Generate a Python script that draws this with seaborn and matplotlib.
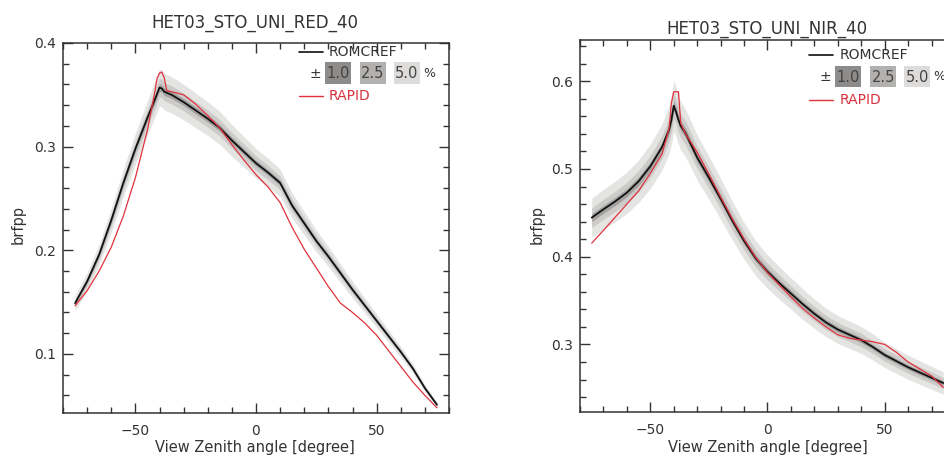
import numpy as np
import pandas as pd
import matplotlib
matplotlib.use("Agg")
import matplotlib.pyplot as plt
import seaborn as sns
from matplotlib.ticker import MultipleLocator
from matplotlib.patches import Rectangle
from matplotlib.lines import Line2D

# ---------------- data ----------------
angles = [-75, -70, -65, -60, -55, -50, -45, -42, -41, -40, -39, -38, -37, -35,
          -30, -25, -20, -15, -10, -5, 0, 5, 10, 15, 20, 25, 30, 35, 40, 45,
          50, 55, 60, 65, 70, 75]

red_romcref = [0.149, 0.170, 0.196, 0.229, 0.265, 0.298, 0.328, 0.345, 0.351, 0.357,
               0.356, 0.353, 0.352, 0.350, 0.343, 0.335, 0.327, 0.318, 0.306, 0.295,
               0.284, 0.275, 0.265, 0.243, 0.226, 0.209, 0.194, 0.178, 0.162, 0.147,
               0.132, 0.117, 0.102, 0.086, 0.067, 0.051]
red_rapid = [0.1465, 0.161, 0.180, 0.203, 0.233, 0.270, 0.316, 0.352, 0.366, 0.371,
             0.372, 0.366, 0.354, 0.353, 0.350, 0.341, 0.330, 0.318, 0.302, 0.287,
             0.273, 0.261, 0.246, 0.222, 0.201, 0.183, 0.165, 0.149, 0.140, 0.130,
             0.118, 0.103, 0.088, 0.073, 0.060, 0.048]

nir_romcref = [0.4445, 0.454, 0.463, 0.473, 0.486, 0.503, 0.525, 0.545, 0.556, 0.572,
               0.565, 0.556, 0.549, 0.541, 0.513, 0.490, 0.466, 0.441, 0.418, 0.398,
               0.383, 0.370, 0.358, 0.346, 0.335, 0.325, 0.317, 0.311, 0.305, 0.297,
               0.288, 0.281, 0.274, 0.268, 0.262, 0.256]
nir_rapid = [0.4154, 0.430, 0.445, 0.460, 0.475, 0.495, 0.517, 0.546, 0.575, 0.588,
             0.588, 0.588, 0.552, 0.540, 0.519, 0.494, 0.468, 0.443, 0.420, 0.399,
             0.382, 0.368, 0.354, 0.341, 0.330, 0.320, 0.311, 0.307, 0.305, 0.303,
             0.300, 0.291, 0.280, 0.272, 0.264, 0.251]

band_pcts = [5.0, 2.5, 1.0]
band_labels = ["1.0", "2.5", "5.0"]
titles = ["HET03_STO_UNI_RED_40", "HET03_STO_UNI_NIR_40"]
series_names = ["ROMCREF", "RAPID"]

# ---------------- style ----------------
sns.set_theme(style="ticks")
plt.rcParams['font.family'] = ['DejaVu Sans']
TXT = "#333333"
RED = "#e0323c"
band_colors = {5.0: "#e4e4e3", 2.5: "#cccbca", 1.0: "#a3a2a1"}
box_colors = ["#8e8c8a", "#b3b1af", "#dddcda"]

W, H = 945, 457
fig = plt.figure(figsize=(W / 100, H / 100), dpi=100)
fig.patch.set_facecolor("white")


def fx(px):
    return px / W


def fy(py):
    return 1 - py / H


ax1 = fig.add_axes([fx(63), fy(413), 386 / W, 370 / H])
ax2 = fig.add_axes([fx(580), fy(412), 375 / W, 372 / H])


def draw(ax, ref, rapid, ylim, title_xy, lab_cx, leg_xy):
    df = pd.DataFrame({"angle": angles, "ROMCREF": ref, "RAPID": rapid})
    r = np.array(ref)
    for p in band_pcts:
        ax.fill_between(df["angle"], r * (1 - p / 100), r * (1 + p / 100),
                        color=band_colors[p], lw=0, zorder=1)
    sns.lineplot(data=df, x="angle", y="ROMCREF", ax=ax, color="#111111",
                 lw=1.3, estimator=None, sort=False, zorder=3)
    sns.lineplot(data=df, x="angle", y="RAPID", ax=ax, color=RED,
                 lw=0.9, estimator=None, sort=False, zorder=4)
    ax.set_xlim(-80, 80)
    ax.set_ylim(*ylim)
    ax.xaxis.set_major_locator(MultipleLocator(50))
    ax.xaxis.set_minor_locator(MultipleLocator(10))
    ax.yaxis.set_major_locator(MultipleLocator(0.1))
    ax.yaxis.set_minor_locator(MultipleLocator(0.02))
    ax.yaxis.set_major_formatter(plt.FuncFormatter(lambda v, _: f"{v:.1f}"))
    ax.xaxis.set_major_formatter(plt.FuncFormatter(lambda v, _: f"{v:.0f}".replace("-", "\u2212")))
    ax.tick_params(which="both", direction="in", top=True, right=True,
                   colors=TXT, labelsize=10, width=1.0)
    ax.tick_params(which="major", length=7)
    ax.tick_params(which="minor", length=4)
    ax.tick_params(axis="x", pad=8)
    ax.tick_params(axis="y", pad=5)
    for s in ax.spines.values():
        s.set_color(TXT)
        s.set_linewidth(1.1)
    ax.set_xlabel("")
    ax.set_ylabel("")
    # titles / labels
    fig.text(fx(title_xy[0]), fy(title_xy[1]), title_xy[2], ha="center",
             va="baseline", fontsize=12, color=TXT)
    fig.text(fx(lab_cx), fy(452), "View Zenith angle [degree]", ha="center",
             va="baseline", fontsize=10.5, color=TXT)
    # legend
    lx, ly = leg_xy
    fig.add_artist(Line2D([fx(lx), fx(lx + 24)], [fy(ly), fy(ly)], color="#111111", lw=1.2))
    fig.text(fx(lx + 30), fy(ly), series_names[0], ha="left", va="center",
             fontsize=10, color=TXT)
    r2 = ly + 22
    fig.text(fx(lx + 16), fy(r2), "\u00b1", ha="center", va="center", fontsize=10, color=TXT)
    boxes = [(26, 52), (61, 87), (95, 121)]
    for (b0, b1), lab, bc in zip(boxes, band_labels, box_colors):
        fig.add_artist(Rectangle((fx(lx + b0), fy(ly + 32)), (b1 - b0) / W, 21.5 / H,
                                 transform=fig.transFigure, color=bc, lw=0))
        fig.text(fx(lx + (b0 + b1) / 2), fy(r2), lab, ha="center", va="center",
                 fontsize=10.5, color="#444444")
    fig.text(fx(lx + 124), fy(r2), "%", ha="left", va="center", fontsize=9, color=TXT)
    r3 = ly + 44.5
    fig.add_artist(Line2D([fx(lx), fx(lx + 24)], [fy(r3), fy(r3)], color=RED, lw=1.0))
    fig.text(fx(lx + 30), fy(r3), series_names[1], ha="left", va="center",
             fontsize=10, color="#d8323f")


draw(ax1, red_romcref, red_rapid, (0.043, 0.4), (255, 27.5, titles[0]), 254.5, (299, 51.7))
draw(ax2, nir_romcref, nir_rapid, (0.223, 0.647), (767, 33.5, titles[1]), 767.5, (809.5, 55))

fig.text(fx(18), fy(225), "brfpp", rotation=90, ha="center", va="center", fontsize=10.5, color=TXT)
fig.text(fx(537.5), fy(225), "brfpp", rotation=90, ha="center", va="center", fontsize=10.5, color=TXT)

fig.savefig("out.png", dpi=100, facecolor="white")
